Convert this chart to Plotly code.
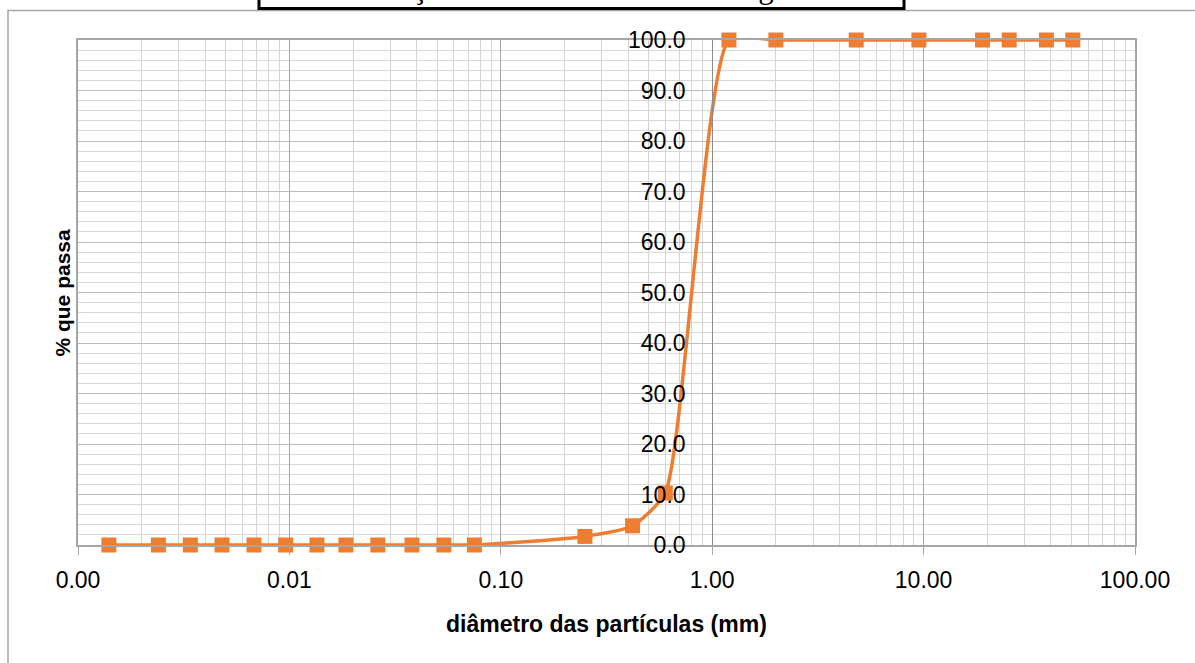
import plotly.graph_objects as go

# ---- data ----
diametro_mm = [0.0014, 0.0024, 0.0034, 0.0048, 0.0068, 0.0096, 0.0135, 0.0185,
               0.0262, 0.038, 0.0538, 0.075, 0.25, 0.42, 0.6, 1.2, 2.0, 4.8,
               9.5, 19.0, 25.4, 38.1, 50.8]
pct_passa = [0, 0, 0, 0, 0, 0, 0, 0,
             0, 0, 0, 0, 1.7, 3.8, 10.3, 100, 100, 100,
             100, 100, 100, 100, 100]
y_ticks = [0, 10, 20, 30, 40, 50, 60, 70, 80, 90, 100]
y_tick_labels = [f"{v:.1f}" for v in y_ticks]
x_log_range = [-3, 2]
titulo = "Classificação Granulométrica - Areia grossa"

ORANGE = "#ED7D31"
FONT = "Liberation Sans"

fig = go.Figure()
fig.add_trace(go.Scatter(
    x=diametro_mm, y=pct_passa, mode="lines+markers",
    line=dict(color=ORANGE, width=3.5, shape="spline", smoothing=0.55),
    marker=dict(symbol="square", size=15, color=ORANGE),
    showlegend=False, cliponaxis=False,
))
# invisible trace to host the y axis drawn at x = 1
fig.add_trace(go.Scatter(x=[1], y=[0], yaxis="y2", mode="markers",
                         marker=dict(opacity=0), showlegend=False, hoverinfo="skip"))

pos_x1 = (0 - x_log_range[0]) / (x_log_range[1] - x_log_range[0])

fig.update_layout(
    width=1195, height=663,
    margin=dict(l=78, r=60, t=40, b=118),
    paper_bgcolor="white", plot_bgcolor="white",
    font=dict(family=FONT, color="black"),
    xaxis=dict(
        type="log", range=x_log_range, dtick=1, tickformat=".2f",
        ticks="outside", ticklen=8, tickcolor="#a6a6a6",
        tickfont=dict(size=23, family=FONT),
        showgrid=True, gridcolor="#a6a6a6", gridwidth=1,
        minor=dict(showgrid=True, dtick="D1", gridcolor="#d4d4d4", gridwidth=1),
        showline=True, mirror=True, linecolor="#a6a6a6", linewidth=1.5,
        zeroline=False, ticklabelstandoff=6,
    ),
    yaxis=dict(
        range=[0, 100], dtick=10, showticklabels=False,
        showgrid=True, gridcolor="#bdbdbd", gridwidth=1,
        minor=dict(showgrid=True, dtick=2, gridcolor="#d9d9d9", gridwidth=1),
        showline=True, mirror=True, linecolor="#a6a6a6", linewidth=1.5,
        zeroline=False,
    ),
    yaxis2=dict(
        overlaying="y", anchor="free", position=pos_x1, side="left",
        range=[0, 100], tickvals=y_ticks, ticktext=y_tick_labels,
        tickfont=dict(size=23, family=FONT),
        showgrid=False, zeroline=False, showline=True, linecolor="#8c8c8c",
        linewidth=1, ticklabelstandoff=22,
    ),
    annotations=[
        dict(text="<b>diâmetro das partículas (mm)</b>", xref="paper", yref="paper",
             x=0.5, y=-0.157, xanchor="center", yanchor="middle", showarrow=False,
             font=dict(size=23, family=FONT)),
        dict(text="<b>% que passa</b>", xref="paper", yref="paper",
             x=-0.0151, y=0.5, xanchor="center", yanchor="middle", showarrow=False,
             textangle=-90, font=dict(size=21, family=FONT)),
        dict(text=titulo, xref="paper", yref="paper",
             x=(564 - 78) / 1057, y=1 + (40 - 6) / 505, xanchor="center", yanchor="bottom",
             showarrow=False, font=dict(size=31, family="Liberation Serif"), borderpad=0),
    ],
    shapes=[
        dict(type="rect", xref="paper", yref="paper", layer="below",
             x0=(8 - 78) / 1057, x1=1.2, y0=-0.4, y1=1 + (40 - 10.5) / 505,
             line=dict(color="#a6a6a6", width=1.5)),
        dict(type="rect", xref="paper", yref="paper", layer="above",
             x0=(259 - 78) / 1057, x1=(904 - 78) / 1057, y0=1 + (40 - 8.5) / 505, y1=1.3,
             line=dict(color="black", width=3), fillcolor="rgba(0,0,0,0)"),
    ],
)

fig.write_html("out.html")
